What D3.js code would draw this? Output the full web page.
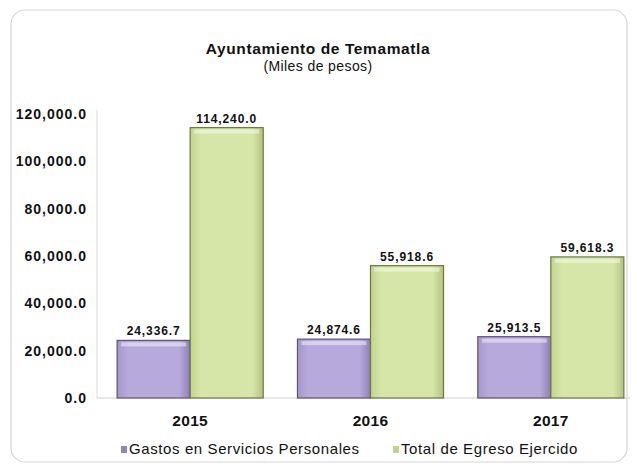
<!DOCTYPE html>
<html><head><meta charset="utf-8">
<script src="https://cdn.jsdelivr.net/npm/d3@7"></script>
<style>body{margin:0;background:#fff;}svg{display:block;font-family:"Liberation Sans",Arial,sans-serif;}</style>
</head><body>
<script>
const categories = ["2015", "2016", "2017"];
const seriesNames = ["Gastos en Servicios Personales", "Total de Egreso Ejercido"];
const gastosServicios = [24336.7, 24874.6, 25913.5];
const totalEgreso = [114240.0, 55918.6, 59618.3];
const yTicks = [0, 20000, 40000, 60000, 80000, 100000, 120000];

const W = 637, H = 470;
const svg = d3.select("body").append("svg").attr("width", W).attr("height", H);
const defs = svg.append("defs");

function grad(id, c1, c2, c3) {
  const g = defs.append("linearGradient").attr("id", id).attr("x1", 0).attr("x2", 1).attr("y1", 0).attr("y2", 0);
  g.append("stop").attr("offset", "0%").attr("stop-color", c1);
  g.append("stop").attr("offset", "15%").attr("stop-color", c2);
  g.append("stop").attr("offset", "85%").attr("stop-color", c2);
  g.append("stop").attr("offset", "100%").attr("stop-color", c3);
}
grad("gp", "#a497c6", "#b8a9dd", "#8e80b4");
grad("gg", "#c2d48e", "#d6e6a8", "#b2c47e");
const colors = ["url(#gp)", "url(#gg)"];
const strokes = ["#5f5478", "#6a7840"];
const legendColors = ["#9184b6", "#bfd38a"];

// outer frame
svg.append("rect").attr("x", 11).attr("y", 10).attr("width", 616).attr("height", 452)
  .attr("rx", 14).attr("fill", "#fff").attr("stroke", "#d6d6d6").attr("stroke-width", 1.2);

const x0 = d3.scaleBand().domain(categories).range([100, 641]).paddingInner(0.19).paddingOuter(0.095);
const x1 = d3.scaleBand().domain([0, 1]).range([0, x0.bandwidth()]);
const y = d3.scaleLinear().domain([0, 120000]).range([398, 114]);

// axis lines
svg.append("line").attr("x1", 97).attr("x2", 97).attr("y1", 110).attr("y2", 398).attr("stroke", "#d9d9d9");
svg.append("line").attr("x1", 97).attr("x2", 630).attr("y1", 398).attr("y2", 398).attr("stroke", "#d0d0d0");

const yAxis = svg.append("g").attr("transform", "translate(97,0)")
  .call(d3.axisLeft(y).tickValues(yTicks).tickSize(0).tickPadding(10).tickFormat(d3.format(",.1f")));
yAxis.select(".domain").remove();
yAxis.selectAll("text").attr("font-size", 14).attr("font-weight", "bold").attr("fill", "#111")
  .attr("letter-spacing", 1.0)
  .attr("font-family", '"Liberation Sans",Arial,sans-serif');

const data = categories.map((c, i) => ({cat: c, vals: [gastosServicios[i], totalEgreso[i]]}));

const groups = svg.selectAll("g.cat").data(data).enter().append("g").attr("class", "cat")
  .attr("transform", d => `translate(${x0(d.cat)},0)`);

groups.selectAll("rect.bar").data(d => d.vals.map((v, k) => ({v, k}))).enter().append("rect")
  .attr("class", "bar")
  .attr("x", d => x1(d.k)).attr("width", x1.bandwidth())
  .attr("y", d => y(d.v)).attr("height", d => y(0) - y(d.v))
  .attr("fill", d => colors[d.k]).attr("stroke", d => strokes[d.k]).attr("stroke-width", 1.2);

// top bevel highlight
groups.selectAll("rect.hl").data(d => d.vals.map((v, k) => ({v, k}))).enter().append("rect")
  .attr("class", "hl")
  .attr("x", d => x1(d.k) + 4).attr("width", x1.bandwidth() - 8)
  .attr("y", d => y(d.v) + 2).attr("height", 4)
  .attr("fill", "#fff").attr("opacity", 0.45);

groups.selectAll("text.val").data(d => d.vals.map((v, k) => ({v, k}))).enter().append("text")
  .attr("class", "val")
  .attr("x", d => x1(d.k) + x1.bandwidth() / 2).attr("y", d => y(d.v) - 5)
  .attr("text-anchor", "middle").attr("font-size", 12).attr("font-weight", "bold").attr("fill", "#111")
  .attr("letter-spacing", 0.9)
  .text(d => d3.format(",.1f")(d.v));

// category labels
svg.selectAll("text.cat").data(categories).enter().append("text").attr("class", "cat")
  .attr("x", d => x0(d) + x0.bandwidth() / 2).attr("y", 426)
  .attr("text-anchor", "middle").attr("font-size", 15.5).attr("font-weight", "bold").attr("fill", "#111")
  .attr("letter-spacing", 0.3)
  .text(d => d);

// title
svg.append("text").attr("x", 318).attr("y", 54).attr("text-anchor", "middle")
  .attr("font-size", 15.5).attr("font-weight", "bold").attr("letter-spacing", 0.6).attr("fill", "#111")
  .text("Ayuntamiento de Temamatla");
svg.append("text").attr("x", 318).attr("y", 71).attr("text-anchor", "middle")
  .attr("font-size", 14).attr("letter-spacing", 0.4).attr("fill", "#111").text("(Miles de pesos)");

// legend
const legendX = [121, 393];
seriesNames.forEach((n, i) => {
  svg.append("rect").attr("x", legendX[i]).attr("y", 446).attr("width", 6).attr("height", 7)
    .attr("fill", legendColors[i]);
  svg.append("text").attr("x", legendX[i] + 8).attr("y", 454).attr("font-size", 15).attr("fill", "#111")
    .attr("letter-spacing", 0.6).text(n);
});
</script>
</body></html>
